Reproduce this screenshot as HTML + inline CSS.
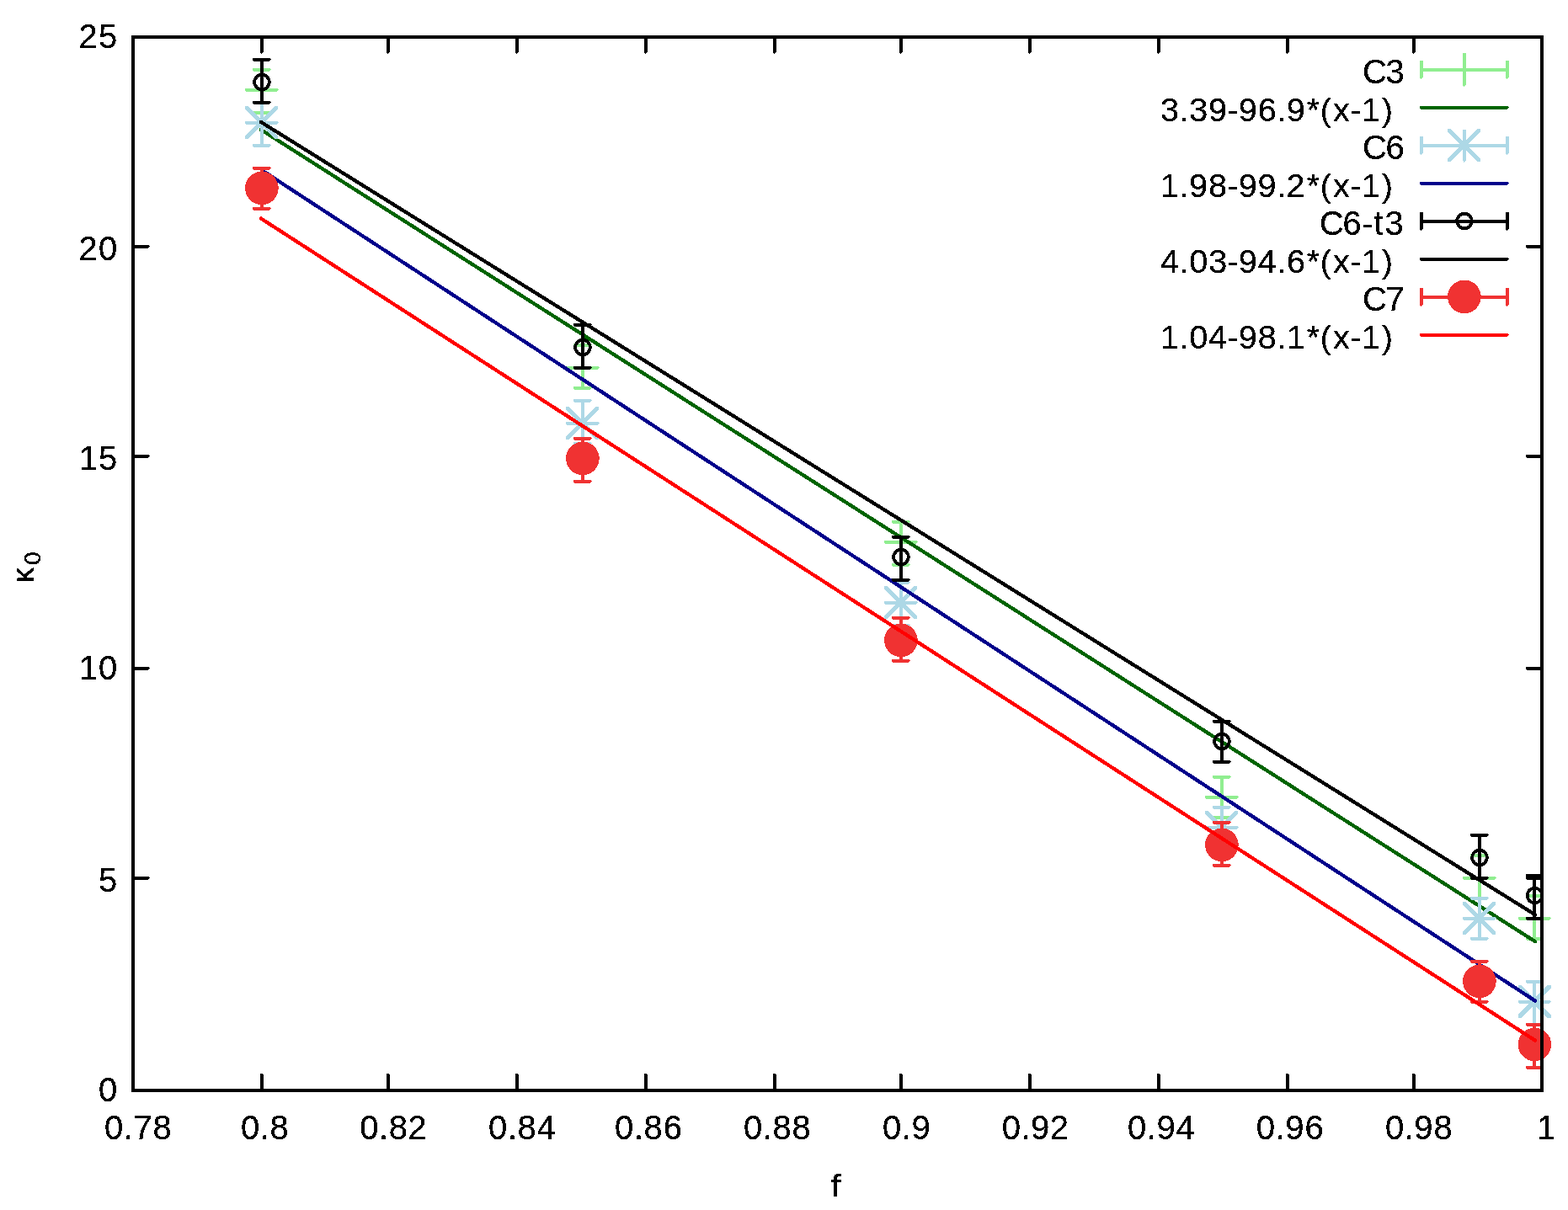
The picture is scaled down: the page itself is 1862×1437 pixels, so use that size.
<!DOCTYPE html>
<html lang="en">
<head>
<meta charset="utf-8">
<title>kappa0 vs f</title>
<style>
html,body{margin:0;padding:0;background:#fff;}
svg{display:block;}
text{font-family:'Liberation Sans', sans-serif;white-space:pre;}
</style>
</head>
<body>
<svg width="1862" height="1437" viewBox="0 0 1862 1437" role="img" aria-label="Plot of kappa 0 versus f with linear fits">
<rect x="0" y="0" width="1862" height="1437" fill="#ffffff"/>
<g shape-rendering="crispEdges">
<g>
<polygon fill="#90ee90" points="1686,81 1790.9,81 1792,82.6 1789.6,85 1687.3,85 1686,83.7"/>
<polygon fill="#90ee90" points="1686,72 1689,72 1690,73 1690,92 1687.5,94 1686,92.3"/>
<polygon fill="#90ee90" points="1788,72 1791,72 1792,73 1792,92 1789.5,94 1788,92.3"/>
<polygon fill="#90ee90" points="309,83 312,83 313,84 313,134 310.5,136 309,134.3"/>
<polygon fill="#90ee90" points="300,81 320.9,81 322,82.6 319.6,85 301.3,85 300,83.7"/>
<polygon fill="#90ee90" points="300,132 320.9,132 322,133.6 319.6,136 301.3,136 300,134.7"/>
<polygon fill="#90ee90" points="690,410 693,410 694,411 694,461 691.5,463 690,461.3"/>
<polygon fill="#90ee90" points="681,408 701.9,408 703,409.6 700.6,412 682.3,412 681,410.7"/>
<polygon fill="#90ee90" points="681,459 701.9,459 703,460.6 700.6,463 682.3,463 681,461.7"/>
<polygon fill="#90ee90" points="1068,620 1071,620 1072,621 1072,671 1069.5,673 1068,671.3"/>
<polygon fill="#90ee90" points="1059,618 1079.9,618 1081,619.6 1078.6,622 1060.3,622 1059,620.7"/>
<polygon fill="#90ee90" points="1059,669 1079.9,669 1081,670.6 1078.6,673 1060.3,673 1059,671.7"/>
<polygon fill="#90ee90" points="1449,923 1452,923 1453,924 1453,971 1450.5,973 1449,971.3"/>
<polygon fill="#90ee90" points="1440,921 1460.9,921 1462,922.6 1459.6,925 1441.3,925 1440,923.7"/>
<polygon fill="#90ee90" points="1440,969 1460.9,969 1462,970.6 1459.6,973 1441.3,973 1440,971.7"/>
<polygon fill="#90ee90" points="1755,1016 1758,1016 1759,1017 1759,1067 1756.5,1069 1755,1067.3"/>
<polygon fill="#90ee90" points="1746,1014 1766.9,1014 1768,1015.6 1765.6,1018 1747.3,1018 1746,1016.7"/>
<polygon fill="#90ee90" points="1746,1065 1766.9,1065 1768,1066.6 1765.6,1069 1747.3,1069 1746,1067.7"/>
<polygon fill="#90ee90" points="1820,1064 1823,1064 1824,1065 1824,1115 1821.5,1117 1820,1115.3"/>
<polygon fill="#90ee90" points="1812,1062 1831.9,1062 1833,1063.6 1830.6,1066 1813.3,1066 1812,1064.7"/>
<polygon fill="#90ee90" points="1812,1113 1831.9,1113 1833,1114.6 1830.6,1117 1813.3,1117 1812,1115.7"/>
<polygon fill="#90ee90" points="1719,81 1757.9,81 1759,82.6 1756.6,85 1720.3,85 1719,83.7"/>
<polygon fill="#90ee90" points="1737,63 1740,63 1741,64 1741,101 1738.5,103 1737,101.3"/>
<polygon fill="#90ee90" points="291,105 329.9,105 331,106.6 328.6,109 292.3,109 291,107.7"/>
<polygon fill="#90ee90" points="309,87 312,87 313,88 313,125 310.5,127 309,125.3"/>
<polygon fill="#90ee90" points="672,435 710.9,435 712,436.6 709.6,439 673.3,439 672,437.7"/>
<polygon fill="#90ee90" points="690,417 693,417 694,418 694,455 691.5,457 690,455.3"/>
<polygon fill="#90ee90" points="1050,642 1088.9,642 1090,643.6 1087.6,646 1051.3,646 1050,644.7"/>
<polygon fill="#90ee90" points="1068,624 1071,624 1072,625 1072,662 1069.5,664 1068,662.3"/>
<polygon fill="#90ee90" points="1431,945 1469.9,945 1471,946.6 1468.6,949 1432.3,949 1431,947.7"/>
<polygon fill="#90ee90" points="1449,927 1452,927 1453,928 1453,965 1450.5,967 1449,965.3"/>
<polygon fill="#90ee90" points="1737,1041 1775.9,1041 1777,1042.6 1774.6,1045 1738.3,1045 1737,1043.7"/>
<polygon fill="#90ee90" points="1755,1023 1758,1023 1759,1024 1759,1061 1756.5,1063 1755,1061.3"/>
<polygon fill="#90ee90" points="1803,1089 1840.9,1089 1842,1090.6 1839.6,1093 1804.3,1093 1803,1091.7"/>
<polygon fill="#90ee90" points="1820,1071 1823,1071 1824,1072 1824,1109 1821.5,1111 1820,1109.3"/>
</g>
<g>
<polygon fill="#006400" points="1686,126 1790.9,126 1792,127.6 1789.6,130 1687.3,130 1686,128.7"/>
<line x1="310" y1="154.01" x2="1823" y2="1118.17" stroke="#006400" stroke-width="4.3" stroke-linecap="round"/>
</g>
<g>
<polygon fill="#add8e6" points="1686,171 1790.9,171 1792,172.6 1789.6,175 1687.3,175 1686,173.7"/>
<polygon fill="#add8e6" points="1686,162 1689,162 1690,163 1690,182 1687.5,184 1686,182.3"/>
<polygon fill="#add8e6" points="1788,162 1791,162 1792,163 1792,182 1789.5,184 1788,182.3"/>
<polygon fill="#add8e6" points="309,122 312,122 313,123 313,173 310.5,175 309,173.3"/>
<polygon fill="#add8e6" points="300,120 320.9,120 322,121.6 319.6,124 301.3,124 300,122.7"/>
<polygon fill="#add8e6" points="300,171 320.9,171 322,172.6 319.6,175 301.3,175 300,173.7"/>
<polygon fill="#add8e6" points="690,476 693,476 694,477 694,527 691.5,529 690,527.3"/>
<polygon fill="#add8e6" points="681,474 701.9,474 703,475.6 700.6,478 682.3,478 681,476.7"/>
<polygon fill="#add8e6" points="681,525 701.9,525 703,526.6 700.6,529 682.3,529 681,527.7"/>
<polygon fill="#add8e6" points="1068,692 1071,692 1072,693 1072,743 1069.5,745 1068,743.3"/>
<polygon fill="#add8e6" points="1059,690 1079.9,690 1081,691.6 1078.6,694 1060.3,694 1059,692.7"/>
<polygon fill="#add8e6" points="1059,741 1079.9,741 1081,742.6 1078.6,745 1060.3,745 1059,743.7"/>
<polygon fill="#add8e6" points="1449,959 1452,959 1453,960 1453,1007 1450.5,1009 1449,1007.3"/>
<polygon fill="#add8e6" points="1440,957 1460.9,957 1462,958.6 1459.6,961 1441.3,961 1440,959.7"/>
<polygon fill="#add8e6" points="1440,1005 1460.9,1005 1462,1006.6 1459.6,1009 1441.3,1009 1440,1007.7"/>
<polygon fill="#add8e6" points="1755,1067 1758,1067 1759,1068 1759,1115 1756.5,1117 1755,1115.3"/>
<polygon fill="#add8e6" points="1746,1065 1766.9,1065 1768,1066.6 1765.6,1069 1747.3,1069 1746,1067.7"/>
<polygon fill="#add8e6" points="1746,1113 1766.9,1113 1768,1114.6 1765.6,1117 1747.3,1117 1746,1115.7"/>
<polygon fill="#add8e6" points="1820,1166 1823,1166 1824,1167 1824,1217 1821.5,1219 1820,1217.3"/>
<polygon fill="#add8e6" points="1812,1164 1831.9,1164 1833,1165.6 1830.6,1168 1813.3,1168 1812,1166.7"/>
<polygon fill="#add8e6" points="1812,1215 1831.9,1215 1833,1216.6 1830.6,1219 1813.3,1219 1812,1217.7"/>
<polygon fill="#add8e6" points="1719,153 1722.8,153 1758,188.2 1758,192 1754.2,192 1719,156.8"/>
<polygon fill="#add8e6" points="1758,153 1758,156.8 1722.8,192 1719,192 1719,188.2 1754.2,153"/>
<polygon fill="#add8e6" points="1719,171 1757.9,171 1759,172.6 1756.6,175 1720.3,175 1719,173.7"/>
<polygon fill="#add8e6" points="1737,153.5 1740,153.5 1741,154.5 1741,190.5 1738.5,192.5 1737,190.8"/>
<polygon fill="#add8e6" points="291,126 294.8,126 330,161.2 330,165 326.2,165 291,129.8"/>
<polygon fill="#add8e6" points="330,126 330,129.8 294.8,165 291,165 291,161.2 326.2,126"/>
<polygon fill="#add8e6" points="291,144 329.9,144 331,145.6 328.6,148 292.3,148 291,146.7"/>
<polygon fill="#add8e6" points="309,126.5 312,126.5 313,127.5 313,163.5 310.5,165.5 309,163.8"/>
<polygon fill="#add8e6" points="672,483 675.8,483 711,518.2 711,522 707.2,522 672,486.8"/>
<polygon fill="#add8e6" points="711,483 711,486.8 675.8,522 672,522 672,518.2 707.2,483"/>
<polygon fill="#add8e6" points="672,501 710.9,501 712,502.6 709.6,505 673.3,505 672,503.7"/>
<polygon fill="#add8e6" points="690,483.5 693,483.5 694,484.5 694,520.5 691.5,522.5 690,520.8"/>
<polygon fill="#add8e6" points="1050,696 1053.8,696 1089,731.2 1089,735 1085.2,735 1050,699.8"/>
<polygon fill="#add8e6" points="1089,696 1089,699.8 1053.8,735 1050,735 1050,731.2 1085.2,696"/>
<polygon fill="#add8e6" points="1050,714 1088.9,714 1090,715.6 1087.6,718 1051.3,718 1050,716.7"/>
<polygon fill="#add8e6" points="1068,696.5 1071,696.5 1072,697.5 1072,733.5 1069.5,735.5 1068,733.8"/>
<polygon fill="#add8e6" points="1431,963 1434.8,963 1470,998.2 1470,1002 1466.2,1002 1431,966.8"/>
<polygon fill="#add8e6" points="1470,963 1470,966.8 1434.8,1002 1431,1002 1431,998.2 1466.2,963"/>
<polygon fill="#add8e6" points="1431,981 1469.9,981 1471,982.6 1468.6,985 1432.3,985 1431,983.7"/>
<polygon fill="#add8e6" points="1449,963.5 1452,963.5 1453,964.5 1453,1000.5 1450.5,1002.5 1449,1000.8"/>
<polygon fill="#add8e6" points="1737,1071 1740.8,1071 1776,1106.2 1776,1110 1772.2,1110 1737,1074.8"/>
<polygon fill="#add8e6" points="1776,1071 1776,1074.8 1740.8,1110 1737,1110 1737,1106.2 1772.2,1071"/>
<polygon fill="#add8e6" points="1737,1089 1775.9,1089 1777,1090.6 1774.6,1093 1738.3,1093 1737,1091.7"/>
<polygon fill="#add8e6" points="1755,1071.5 1758,1071.5 1759,1072.5 1759,1108.5 1756.5,1110.5 1755,1108.8"/>
<polygon fill="#add8e6" points="1802.5,1170 1806.3,1170 1841.5,1205.2 1841.5,1209 1837.7,1209 1802.5,1173.8"/>
<polygon fill="#add8e6" points="1841.5,1170 1841.5,1173.8 1806.3,1209 1802.5,1209 1802.5,1205.2 1837.7,1170"/>
<polygon fill="#add8e6" points="1803,1188 1840.9,1188 1842,1189.6 1839.6,1192 1804.3,1192 1803,1190.7"/>
<polygon fill="#add8e6" points="1820,1170.5 1823,1170.5 1824,1171.5 1824,1207.5 1821.5,1209.5 1820,1207.8"/>
</g>
<g>
<polygon fill="#00008b" points="1686,216 1790.9,216 1792,217.6 1789.6,220 1687.3,220 1686,218.7"/>
<line x1="312" y1="202.83" x2="1823" y2="1188.57" stroke="#00008b" stroke-width="4.3" stroke-linecap="round"/>
</g>
<g>
<polygon fill="#000000" points="1686,261 1790.9,261 1792,262.6 1789.6,265 1687.3,265 1686,263.7"/>
<polygon fill="#000000" points="1686,252 1689,252 1690,253 1690,272 1687.5,274 1686,272.3"/>
<polygon fill="#000000" points="1788,252 1791,252 1792,253 1792,272 1789.5,274 1788,272.3"/>
<polygon fill="#000000" points="309,71 312,71 313,72 313,122 310.5,124 309,122.3"/>
<polygon fill="#000000" points="300,69 320.9,69 322,70.6 319.6,73 301.3,73 300,71.7"/>
<polygon fill="#000000" points="300,120 320.9,120 322,121.6 319.6,124 301.3,124 300,122.7"/>
<polygon fill="#000000" points="690,386 693,386 694,387 694,437 691.5,439 690,437.3"/>
<polygon fill="#000000" points="681,384 701.9,384 703,385.6 700.6,388 682.3,388 681,386.7"/>
<polygon fill="#000000" points="681,435 701.9,435 703,436.6 700.6,439 682.3,439 681,437.7"/>
<polygon fill="#000000" points="1068,638 1071,638 1072,639 1072,689 1069.5,691 1068,689.3"/>
<polygon fill="#000000" points="1059,636 1079.9,636 1081,637.6 1078.6,640 1060.3,640 1059,638.7"/>
<polygon fill="#000000" points="1059,687 1079.9,687 1081,688.6 1078.6,691 1060.3,691 1059,689.7"/>
<polygon fill="#000000" points="1449,857 1452,857 1453,858 1453,905 1450.5,907 1449,905.3"/>
<polygon fill="#000000" points="1440,855 1460.9,855 1462,856.6 1459.6,859 1441.3,859 1440,857.7"/>
<polygon fill="#000000" points="1440,903 1460.9,903 1462,904.6 1459.6,907 1441.3,907 1440,905.7"/>
<polygon fill="#000000" points="1755,992 1758,992 1759,993 1759,1043 1756.5,1045 1755,1043.3"/>
<polygon fill="#000000" points="1746,990 1766.9,990 1768,991.6 1765.6,994 1747.3,994 1746,992.7"/>
<polygon fill="#000000" points="1746,1041 1766.9,1041 1768,1042.6 1765.6,1045 1747.3,1045 1746,1043.7"/>
<polygon fill="#000000" points="1820,1040 1823,1040 1824,1041 1824,1091 1821.5,1093 1820,1091.3"/>
<polygon fill="#000000" points="1812,1038 1831.9,1038 1833,1039.6 1830.6,1042 1813.3,1042 1812,1040.7"/>
<polygon fill="#000000" points="1812,1089 1831.9,1089 1833,1090.6 1830.6,1093 1813.3,1093 1812,1091.7"/>
<circle cx="1739" cy="262.5" r="8.8" fill="none" stroke="#000000" stroke-width="3.8"/>
<circle cx="311" cy="97.5" r="8.8" fill="none" stroke="#000000" stroke-width="3.8"/>
<circle cx="692" cy="412.5" r="8.8" fill="none" stroke="#000000" stroke-width="3.8"/>
<circle cx="1070" cy="661.5" r="8.8" fill="none" stroke="#000000" stroke-width="3.8"/>
<circle cx="1451" cy="880.5" r="8.8" fill="none" stroke="#000000" stroke-width="3.8"/>
<circle cx="1757" cy="1018.5" r="8.8" fill="none" stroke="#000000" stroke-width="3.8"/>
<circle cx="1822.5" cy="1063.5" r="8.8" fill="none" stroke="#000000" stroke-width="3.8"/>
</g>
<g>
<polygon fill="#000000" points="1686,306 1790.9,306 1792,307.6 1789.6,310 1687.3,310 1686,308.7"/>
<line x1="310" y1="145.01" x2="1823" y2="1086.29" stroke="#000000" stroke-width="4.3" stroke-linecap="round"/>
</g>
<g>
<polygon fill="#f03232" points="1686,351 1790.9,351 1792,352.6 1789.6,355 1687.3,355 1686,353.7"/>
<polygon fill="#f03232" points="1686,342 1689,342 1690,343 1690,362 1687.5,364 1686,362.3"/>
<polygon fill="#f03232" points="1788,342 1791,342 1792,343 1792,362 1789.5,364 1788,362.3"/>
<polygon fill="#f03232" points="309,200 312,200 313,201 313,248 310.5,250 309,248.3"/>
<polygon fill="#f03232" points="300,198 320.9,198 322,199.6 319.6,202 301.3,202 300,200.7"/>
<polygon fill="#f03232" points="300,246 320.9,246 322,247.6 319.6,250 301.3,250 300,248.7"/>
<polygon fill="#f03232" points="690,521 693,521 694,522 694,572 691.5,574 690,572.3"/>
<polygon fill="#f03232" points="681,519 701.9,519 703,520.6 700.6,523 682.3,523 681,521.7"/>
<polygon fill="#f03232" points="681,570 701.9,570 703,571.6 700.6,574 682.3,574 681,572.7"/>
<polygon fill="#f03232" points="1068,734 1071,734 1072,735 1072,785 1069.5,787 1068,785.3"/>
<polygon fill="#f03232" points="1059,732 1079.9,732 1081,733.6 1078.6,736 1060.3,736 1059,734.7"/>
<polygon fill="#f03232" points="1059,783 1079.9,783 1081,784.6 1078.6,787 1060.3,787 1059,785.7"/>
<polygon fill="#f03232" points="1449,977 1452,977 1453,978 1453,1028 1450.5,1030 1449,1028.3"/>
<polygon fill="#f03232" points="1440,975 1460.9,975 1462,976.6 1459.6,979 1441.3,979 1440,977.7"/>
<polygon fill="#f03232" points="1440,1026 1460.9,1026 1462,1027.6 1459.6,1030 1441.3,1030 1440,1028.7"/>
<polygon fill="#f03232" points="1755,1142 1758,1142 1759,1143 1759,1190 1756.5,1192 1755,1190.3"/>
<polygon fill="#f03232" points="1746,1140 1766.9,1140 1768,1141.6 1765.6,1144 1747.3,1144 1746,1142.7"/>
<polygon fill="#f03232" points="1746,1188 1766.9,1188 1768,1189.6 1765.6,1192 1747.3,1192 1746,1190.7"/>
<polygon fill="#f03232" points="1820,1217 1823,1217 1824,1218 1824,1268 1821.5,1270 1820,1268.3"/>
<polygon fill="#f03232" points="1812,1215 1831.9,1215 1833,1216.6 1830.6,1219 1813.3,1219 1812,1217.7"/>
<polygon fill="#f03232" points="1812,1266 1831.9,1266 1833,1267.6 1830.6,1270 1813.3,1270 1812,1268.7"/>
<circle cx="1738.9" cy="352.4" r="19.8" fill="#f03232"/>
<circle cx="310.9" cy="223.4" r="19.8" fill="#f03232"/>
<circle cx="691.9" cy="544.4" r="19.8" fill="#f03232"/>
<circle cx="1069.9" cy="760.4" r="19.8" fill="#f03232"/>
<circle cx="1450.9" cy="1003.4" r="19.8" fill="#f03232"/>
<circle cx="1756.9" cy="1165.4" r="19.8" fill="#f03232"/>
<circle cx="1822.4" cy="1240.4" r="19.8" fill="#f03232"/>
</g>
<g>
<polygon fill="#ff0000" points="1686,396 1790.9,396 1792,397.6 1789.6,400 1687.3,400 1686,398.7"/>
<line x1="310" y1="259.54" x2="1823" y2="1235.63" stroke="#ff0000" stroke-width="4.3" stroke-linecap="round"/>
</g>
<g>
<polygon fill="#000000" points="309,44 312,44 313,45 313,62 310.5,64 309,62.3"/>
<polygon fill="#000000" points="309,1275 312,1275 312,1276 313,1276 313,1295 309,1295"/>
<polygon fill="#000000" points="459,44 462,44 463,45 463,62 460.5,64 459,62.3"/>
<polygon fill="#000000" points="459,1275 462,1275 462,1276 463,1276 463,1295 459,1295"/>
<polygon fill="#000000" points="612,44 615,44 616,45 616,62 613.5,64 612,62.3"/>
<polygon fill="#000000" points="612,1275 615,1275 615,1276 616,1276 616,1295 612,1295"/>
<polygon fill="#000000" points="765,44 768,44 769,45 769,62 766.5,64 765,62.3"/>
<polygon fill="#000000" points="765,1275 768,1275 768,1276 769,1276 769,1295 765,1295"/>
<polygon fill="#000000" points="918,44 921,44 922,45 922,62 919.5,64 918,62.3"/>
<polygon fill="#000000" points="918,1275 921,1275 921,1276 922,1276 922,1295 918,1295"/>
<polygon fill="#000000" points="1068,44 1071,44 1072,45 1072,62 1069.5,64 1068,62.3"/>
<polygon fill="#000000" points="1068,1275 1071,1275 1071,1276 1072,1276 1072,1295 1068,1295"/>
<polygon fill="#000000" points="1221,44 1224,44 1225,45 1225,62 1222.5,64 1221,62.3"/>
<polygon fill="#000000" points="1221,1275 1224,1275 1224,1276 1225,1276 1225,1295 1221,1295"/>
<polygon fill="#000000" points="1374,44 1377,44 1378,45 1378,62 1375.5,64 1374,62.3"/>
<polygon fill="#000000" points="1374,1275 1377,1275 1377,1276 1378,1276 1378,1295 1374,1295"/>
<polygon fill="#000000" points="1527,44 1530,44 1531,45 1531,62 1528.5,64 1527,62.3"/>
<polygon fill="#000000" points="1527,1275 1530,1275 1530,1276 1531,1276 1531,1295 1527,1295"/>
<polygon fill="#000000" points="1677,44 1680,44 1681,45 1681,62 1678.5,64 1677,62.3"/>
<polygon fill="#000000" points="1677,1275 1680,1275 1680,1276 1681,1276 1681,1295 1677,1295"/>
<polygon fill="#000000" points="158,1041 176.9,1041 178,1042.6 175.6,1045 159.3,1045 158,1043.7"/>
<polygon fill="#000000" points="1812,1041 1831,1041 1831,1045 1813,1045 1813,1044 1812,1044"/>
<polygon fill="#000000" points="158,792 176.9,792 178,793.6 175.6,796 159.3,796 158,794.7"/>
<polygon fill="#000000" points="1812,792 1831,792 1831,796 1813,796 1813,795 1812,795"/>
<polygon fill="#000000" points="158,540 176.9,540 178,541.6 175.6,544 159.3,544 158,542.7"/>
<polygon fill="#000000" points="1812,540 1831,540 1831,544 1813,544 1813,543 1812,543"/>
<polygon fill="#000000" points="158,291 176.9,291 178,292.6 175.6,295 159.3,295 158,293.7"/>
<polygon fill="#000000" points="1812,291 1831,291 1831,295 1813,295 1813,294 1812,294"/>
<rect x="158" y="44" width="1673" height="1251" fill="none" stroke="#000" stroke-width="4"/>
</g>
</g>
<defs><filter id="bw" x="0" y="0" width="1862" height="1437" filterUnits="userSpaceOnUse" color-interpolation-filters="sRGB"><feComponentTransfer><feFuncA type="discrete" tableValues="0 1 1"/></feComponentTransfer></filter></defs>
<g font-family="'Liberation Sans', sans-serif" fill="#000" filter="url(#bw)">
<text x="117.1" y="1307.5" font-size="40">0</text>
<text x="116.96" y="1058.6" font-size="40">5</text>
<text x="93.85 117.1" y="806.6" font-size="40">10</text>
<text x="93.85 116.96" y="557.6" font-size="40">15</text>
<text x="93.59 117.1" y="308.6" font-size="40">20</text>
<text x="93.59 116.96" y="56.5" font-size="40">25</text>
<text x="123.98 146.81 158.45 181.55" y="1352.5" font-size="40">0.78</text>
<text x="285.93 308.76 320.47" y="1352.5" font-size="40">0.8</text>
<text x="427.18 450.01 461.72 484.28" y="1352.5" font-size="40">0.82</text>
<text x="580.08 602.91 614.62 637.66" y="1352.5" font-size="40">0.84</text>
<text x="730.08 752.91 764.62 787.65" y="1352.5" font-size="40">0.86</text>
<text x="883.03 905.86 917.57 940.6" y="1352.5" font-size="40">0.88</text>
<text x="1048.03 1070.86 1082.46" y="1352.5" font-size="40">0.9</text>
<text x="1189.63 1212.46 1224.06 1246.73" y="1352.5" font-size="40">0.92</text>
<text x="1339.03 1361.86 1373.46 1396.61" y="1352.5" font-size="40">0.94</text>
<text x="1491.83 1514.66 1526.26 1549.4" y="1352.5" font-size="40">0.96</text>
<text x="1644.88 1667.71 1679.31 1702.45" y="1352.5" font-size="40">0.98</text>
<text x="1825.06" y="1352.5" font-size="40">1</text>
<text x="1617.88 1645.62" y="98.8" font-size="40">C3</text>
<text x="1378.04 1400.62 1412.29 1434.96 1457.41 1470.76 1493.71 1516.35 1527.85 1551.67 1567.76 1583 1603.49 1616.74 1640.82" y="143.8" font-size="39.67">3.39-96.9*(x-1)</text>
<text x="1617.88 1645.56" y="188.8" font-size="40">C6</text>
<text x="1377.76 1400.62 1412.12 1435.07 1457.41 1470.76 1493.6 1516.35 1527.49 1551.67 1567.76 1583 1603.49 1616.74 1640.82" y="233.8" font-size="39.67">1.98-99.2*(x-1)</text>
<text x="1566.99 1594.51 1616.91 1631.46 1644.58" y="278.8" font-size="39.78">C6-t3</text>
<text x="1377.98 1400.62 1412.23 1435.13 1457.41 1470.76 1493.71 1516.35 1527.96 1551.67 1567.76 1583 1603.49 1616.74 1640.82" y="323.8" font-size="39.67">4.03-94.6*(x-1)</text>
<text x="1617.88 1645.49" y="368.8" font-size="40">C7</text>
<text x="1377.76 1400.62 1412.23 1435.08 1457.41 1470.76 1493.71 1516.35 1527.74 1551.67 1567.76 1583 1603.49 1616.74 1640.82" y="413.8" font-size="39.67">1.04-98.1*(x-1)</text>
<text transform="translate(986.36,1421) scale(1.22,1)" x="0" y="0" font-size="37.17">f</text>
<text transform="translate(40.1,692.5) rotate(-90)" x="0" y="0" font-size="37.1">κ<tspan x="21.4" y="7.6" font-size="28.2">0</tspan></text>
</g>
</svg>
</body>
</html>
